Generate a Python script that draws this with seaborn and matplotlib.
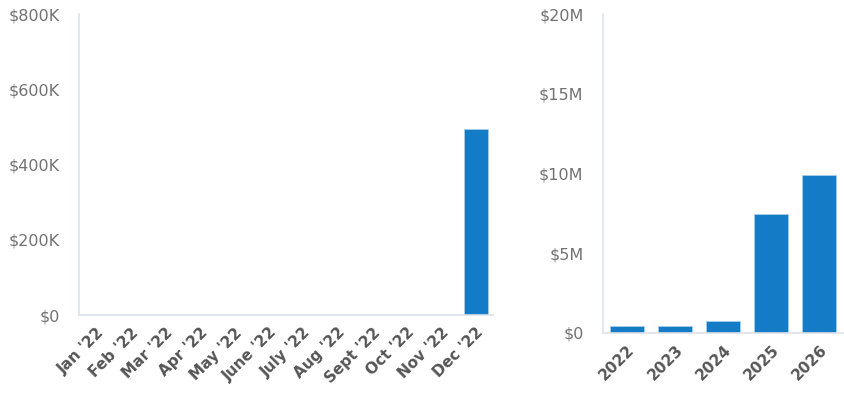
import matplotlib
matplotlib.use("Agg")
import matplotlib.pyplot as plt
import seaborn as sns
import pandas as pd

months = ["Jan '22", "Feb '22", "Mar '22", "Apr '22", "May '22", "June '22",
          "July '22", "Aug '22", "Sept '22", "Oct '22", "Nov '22", "Dec '22"]
month_values = [0, 0, 0, 0, 0, 0, 0, 0, 0, 0, 0, 494000]
years = ["2022", "2023", "2024", "2025", "2026"]
year_values = [440000, 440000, 750000, 7450000, 9900000]
left_ticks = [0, 200000, 400000, 600000, 800000]
left_labels = ["$0", "$200K", "$400K", "$600K", "$800K"]
right_ticks = [0, 5000000, 10000000, 15000000, 20000000]
right_labels = ["$0", "$5M", "$10M", "$15M", "$20M"]

sns.set_theme(style="white")
plt.rcParams['font.family'] = ['DejaVu Sans']

bar_color = "#147BC6"
spine_color = "#DDE3EA"
tick_color = "#727272"
xlab_color = "#555555"

fig = plt.figure(figsize=(8.44, 3.93), dpi=100)
ax1 = fig.add_axes([0.0936, 0.198, 0.4905, 0.766])
ax2 = fig.add_axes([0.7145, 0.153, 0.2845, 0.811])

df1 = pd.DataFrame({"month": months, "value": month_values})
df2 = pd.DataFrame({"year": years, "value": year_values})

sns.barplot(data=df1, x="month", y="value", ax=ax1, color=bar_color,
            width=0.7, edgecolor="#A9CDEB", linewidth=0.6, saturation=1)
sns.barplot(data=df2, x="year", y="value", ax=ax2, color=bar_color,
            width=0.7, edgecolor="#A9CDEB", linewidth=0.6, saturation=1)

for ax, ticks, labels, n in [(ax1, left_ticks, left_labels, len(months)),
                             (ax2, right_ticks, right_labels, len(years))]:
    ax.set_ylim(ticks[0], ticks[-1])
    ax.set_yticks(ticks)
    ax.set_yticklabels(labels, color=tick_color, fontsize=11.5)
    ax.set_xlim(-0.5, n - 0.5)
    ax.set_xlabel("")
    ax.set_ylabel("")
    for s in ["top", "right"]:
        ax.spines[s].set_visible(False)
    for s in ["left", "bottom"]:
        ax.spines[s].set_color(spine_color)
        ax.spines[s].set_linewidth(1.2)
    ax.tick_params(axis="y", length=0, pad=14)
    ax.tick_params(axis="x", length=0, pad=7)
    for lab in ax.get_xticklabels():
        lab.set_rotation(45)
        lab.set_ha("right")
        lab.set_rotation_mode("anchor")
        lab.set_fontweight("bold")
        lab.set_color(xlab_color)
        lab.set_fontsize(11)

fig.savefig("out.png", dpi=100, facecolor="white")
